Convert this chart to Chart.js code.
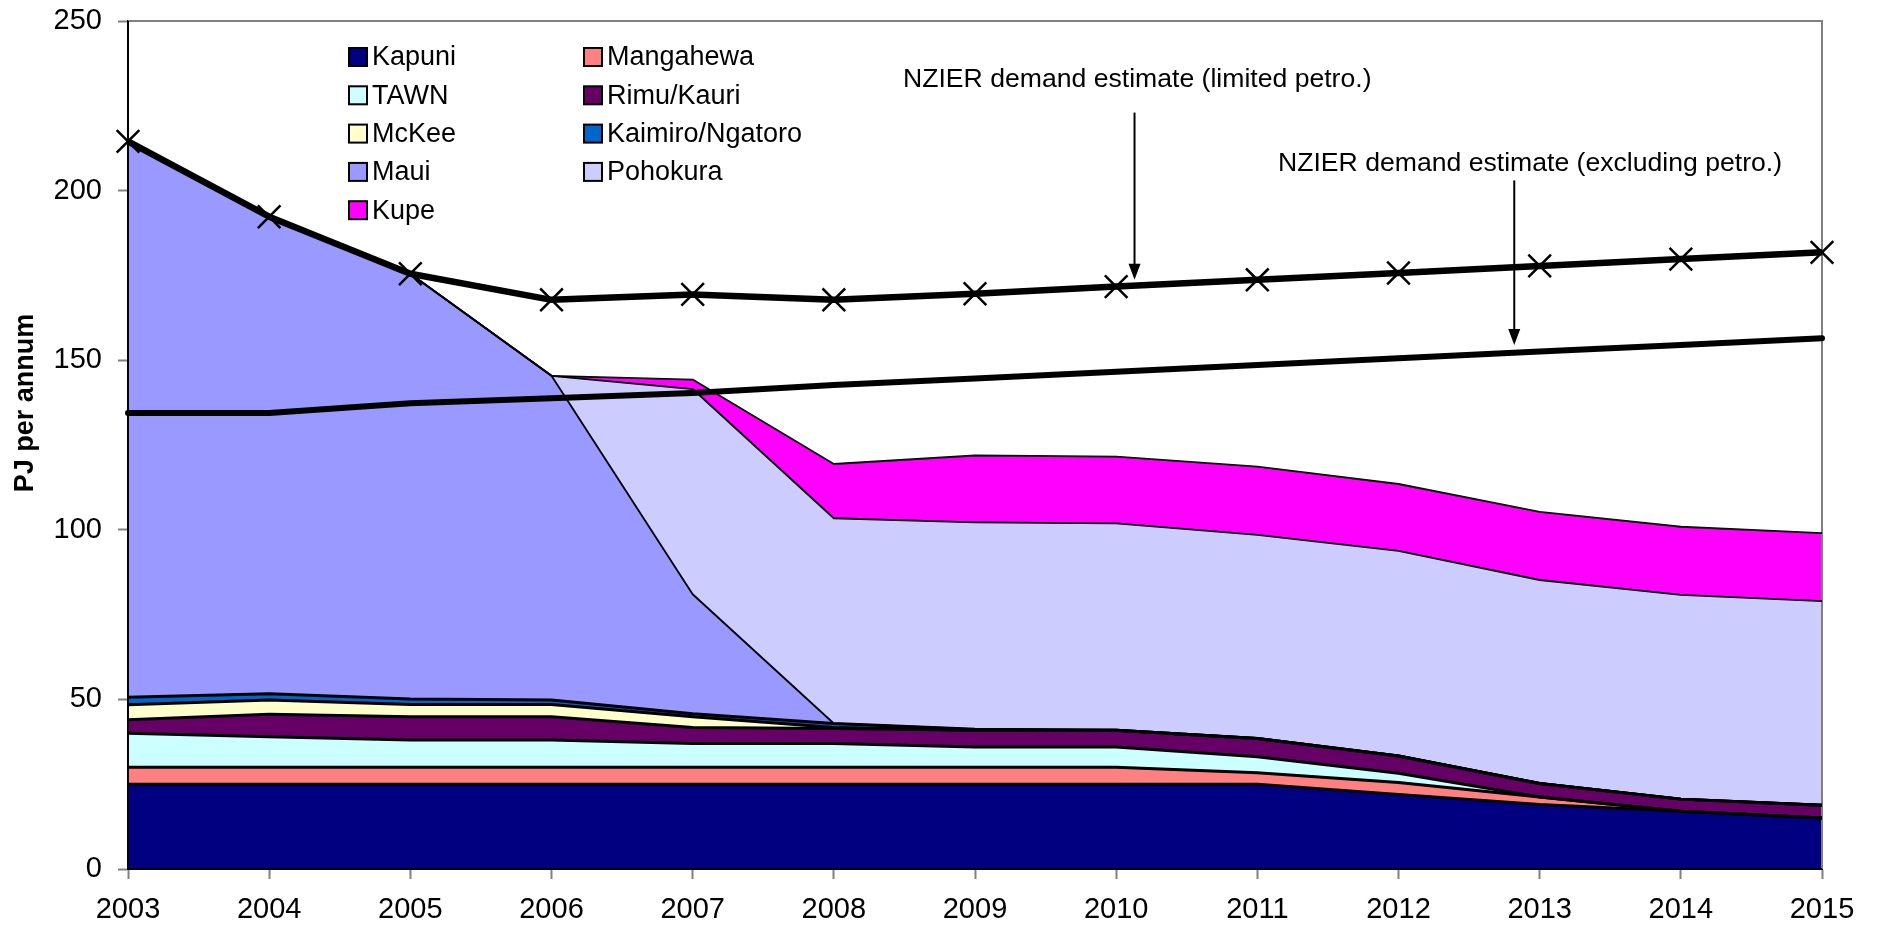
<!DOCTYPE html>
<html lang="en">
<head>
<meta charset="UTF-8">
<title>Gas supply and NZIER demand estimates</title>
<script src="https://cdn.jsdelivr.net/npm/chart.js@4"></script>
<style>
  html, body { margin: 0; padding: 0; background: #fff; }
  #wrap { width: 1879px; height: 931px; }
</style>
</head>
<body>
<div id="wrap"><canvas id="gasChart" width="1879" height="931"></canvas></div>
<script>
    const years = ['2003', '2004', '2005', '2006', '2007', '2008', '2009', '2010', '2011', '2012', '2013', '2014', '2015'];

    // supply by field, PJ per annum (stacked bottom to top)
    const kapuni    = [25, 25, 25, 25, 25, 25, 25, 25, 25, 22, 19, 17, 15];
    const mangahewa = [5, 5, 5, 5, 5, 5, 5, 5, 3.4, 3.5, 2.2, 0, 0];
    const tawn      = [10, 9, 8, 8, 7, 7, 6, 6, 4.7, 2.7, 0, 0, 0];
    const rimuKauri = [4, 6.6, 6.9, 6.9, 4.7, 4.4, 4.9, 4.9, 5.4, 5.1, 4.0, 3.6, 3.8];
    const mckee     = [4.4, 4.2, 3.6, 3.6, 3.2, 0.3, 0, 0, 0, 0, 0, 0, 0];
    const kaimiro   = [2.2, 1.9, 1.6, 1.3, 0.9, 1.2, 0.3, 0, 0, 0, 0, 0, 0];
    const maui      = [163.9, 140.6, 125.4, 95.6, 35.2, 0, 0, 0, 0, 0, 0, 0, 0];
    const pohokura  = [0, 0, 0, 0, 60.5, 60.5, 61, 61, 60, 60.5, 60, 60.2, 60.2];
    const kupe      = [0, 0, 0, 0, 2.8, 16, 19.7, 19.7, 20.1, 19.7, 20.1, 20.1, 20];

    // NZIER demand estimates
    const demandLimited   = [214.5, 192.3, 175.5, 167.8, 169.4, 167.8, 169.6, 171.7, 173.7, 175.7, 177.8, 179.8, 181.8];
    const demandExcluding = [134.4, 134.4, 137.3, 138.8, 140.3, 142.7, 144.6, 146.6, 148.6, 150.6, 152.6, 154.5, 156.5];

    const yTicks = [0, 50, 100, 150, 200, 250];

    const fieldNames = ['Kapuni', 'Mangahewa', 'TAWN', 'Rimu/Kauri', 'McKee', 'Kaimiro/Ngatoro', 'Maui', 'Pohokura', 'Kupe'];
    const fieldData = [kapuni, mangahewa, tawn, rimuKauri, mckee, kaimiro, maui, pohokura, kupe];
    const fieldColours = ['#000080', '#FF8080', '#CCFFFF', '#660066', '#FFFFCC', '#0066CC', '#9999FF', '#CCCCFF', '#FF00FF'];
    const fieldBorder = [3, 3, 3, 3, 3, 3, 1.8, 1.8, 1.8];

    const FONT = '"Liberation Sans", Arial, sans-serif';

    const datasets = fieldNames.map((name, i) => ({
      label: name,
      data: fieldData[i],
      backgroundColor: fieldColours[i],
      borderColor: '#000',
      borderWidth: fieldBorder[i],
      fill: i === 0 ? 'origin' : '-1',
      pointRadius: 0,
      tension: 0,
      stack: 'supply',
      order: 1
    }));

    datasets.push({
      label: 'NZIER demand estimate (limited petro.)',
      data: demandLimited,
      borderColor: '#000',
      backgroundColor: '#000',
      borderWidth: 6.5,
      fill: false,
      pointStyle: 'crossRot',
      pointRadius: 16,
      pointBorderWidth: 2.5,
      pointBorderColor: '#000',
      stack: 'limited',
      order: 0
    });
    datasets.push({
      label: 'NZIER demand estimate (excluding petro.)',
      data: demandExcluding,
      borderColor: '#000',
      borderWidth: 6,
      borderCapStyle: 'round',
      fill: false,
      pointRadius: 0,
      stack: 'excluding',
      order: 0
    });

    // annotation texts and their arrows (arrow x in category index, y in PJ)
    const notes = [
      { text: 'NZIER demand estimate (limited petro.)', px: 903, py: 80, ax: 7.13, from: 223, to: 173.7 },
      { text: 'NZIER demand estimate (excluding petro.)', px: 1278, py: 164, ax: 9.82, from: 203, to: 154.5 }
    ];

    const extras = {
      id: 'extras',
      beforeDatasetsDraw(chart) {
        const ctx = chart.ctx, a = chart.chartArea;
        ctx.save();
        ctx.strokeStyle = '#808080';
        ctx.lineWidth = 2;
        ctx.beginPath();
        ctx.moveTo(a.left, a.top);
        ctx.lineTo(a.right, a.top);
        ctx.lineTo(a.right, a.bottom);
        ctx.stroke();
        ctx.restore();
      },
      afterDatasetsDraw(chart) {
        const ctx = chart.ctx, a = chart.chartArea;
        ctx.save();
        ctx.strokeStyle = '#000';
        ctx.lineWidth = 2;
        ctx.beginPath();
        ctx.moveTo(a.left, a.top);
        ctx.lineTo(a.left, a.bottom);
        ctx.lineTo(a.right, a.bottom);
        ctx.stroke();
        ctx.restore();
      },
      afterDraw(chart) {
        const ctx = chart.ctx;
        const xs = chart.scales.x, ys = chart.scales.y;
        ctx.save();

        // y axis title
        ctx.save();
        ctx.translate(33, 403);
        ctx.rotate(-Math.PI / 2);
        ctx.font = 'bold 27px ' + FONT;
        ctx.textAlign = 'center';
        ctx.textBaseline = 'alphabetic';
        ctx.fillStyle = '#000';
        ctx.fillText('PJ per annum', 0, 0);
        ctx.restore();

        // legend, two columns inside the plot
        ctx.font = '27px ' + FONT;
        ctx.textBaseline = 'middle';
        ctx.fillStyle = '#000';
        const colX = [349, 584];
        const rowY = 57, rowGap = 38.3;
        fieldNames.forEach((name, i) => {
          const col = i % 2, row = Math.floor(i / 2);
          const bx = colX[col], cy = rowY + row * rowGap;
          ctx.fillStyle = fieldColours[i];
          ctx.fillRect(bx, cy - 9, 18, 18);
          ctx.strokeStyle = '#000';
          ctx.lineWidth = 2;
          ctx.strokeRect(bx, cy - 9, 18, 18);
          ctx.fillStyle = '#000';
          ctx.fillText(name, bx + 23, cy + 1);
        });

        // annotations with arrows
        notes.forEach(n => {
          ctx.fillStyle = '#000';
          ctx.font = '26.6px ' + FONT;
          ctx.textBaseline = 'middle';
          ctx.fillText(n.text, n.px, n.py);
          const x = xs.getPixelForValue(n.ax);
          const y1 = ys.getPixelForValue(n.from);
          const y2 = ys.getPixelForValue(n.to);
          ctx.strokeStyle = '#000';
          ctx.lineWidth = 2;
          ctx.beginPath();
          ctx.moveTo(x, y1);
          ctx.lineTo(x, y2 - 14);
          ctx.stroke();
          ctx.beginPath();
          ctx.moveTo(x - 6, y2 - 16);
          ctx.lineTo(x + 6, y2 - 16);
          ctx.lineTo(x, y2);
          ctx.closePath();
          ctx.fill();
        });
        ctx.restore();
      }
    };

    new Chart(document.getElementById('gasChart').getContext('2d'), {
      type: 'line',
      data: { labels: years, datasets: datasets },
      plugins: [extras],
      options: {
        responsive: false,
        animation: false,
        devicePixelRatio: 1,
        layout: { padding: { top: 21, right: 57, left: 0, bottom: 0 } },
        plugins: {
          legend: { display: false },
          tooltip: { enabled: false },
          filler: { drawTime: 'beforeDatasetsDraw' }
        },
        elements: { line: { tension: 0, borderJoinStyle: 'round' } },
        scales: {
          x: {
            offset: false,
            grid: { display: true, drawOnChartArea: false, tickLength: 10, tickColor: '#808080', tickWidth: 2 },
            border: { color: '#000', width: 2 },
            ticks: { color: '#000', font: { family: FONT, size: 29 }, padding: 14, autoSkip: false, maxRotation: 0 },
            afterFit(scale) {
              scale.height = 62;
              scale.paddingLeft = 0;
              scale.paddingRight = 0;
            }
          },
          y: {
            stacked: true,
            min: 0,
            max: 250,
            grid: { display: true, drawOnChartArea: false, tickLength: 10, tickColor: '#808080', tickWidth: 2 },
            border: { color: '#000', width: 2 },
            afterBuildTicks(scale) { scale.ticks = yTicks.map(v => ({ value: v })); },
            ticks: { color: '#000', font: { family: FONT, size: 29 }, padding: 16 },
            afterFit(scale) {
              scale.width = 128;
              scale.paddingTop = 0;
              scale.paddingBottom = 0;
            }
          }
        }
      }
    });
</script>
</body>
</html>
